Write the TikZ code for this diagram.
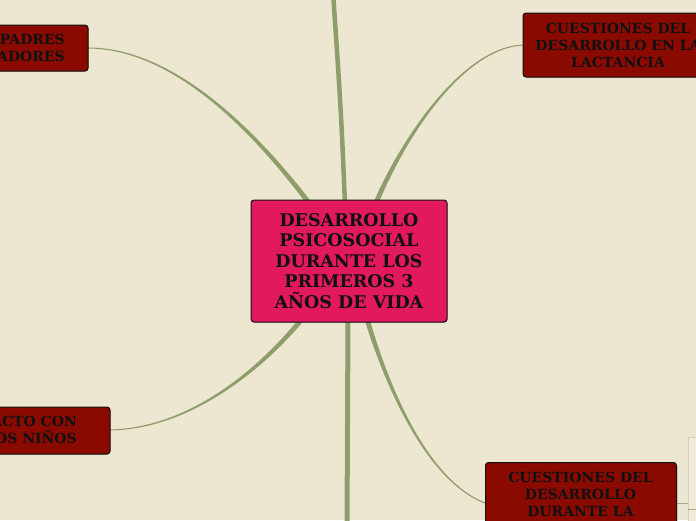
\documentclass[tikz,border=0pt]{standalone}
\usepackage{fontspec}
\setmainfont{DejaVu Serif}
\usetikzlibrary{shadows}
\definecolor{bg}{RGB}{237,231,209}
\definecolor{pinkc}{RGB}{227,25,95}
\definecolor{darkred}{RGB}{138,10,0}
\definecolor{branch}{RGB}{141,158,107}
\definecolor{thinbranch}{RGB}{160,172,128}
\definecolor{framec}{RGB}{212,208,186}
\definecolor{inkc}{RGB}{17,17,17}
\begin{document}
\begin{tikzpicture}[x=1pt,y=-1pt,
  boxbase/.style={draw=inkc, line width=1pt, rounded corners=3pt,
    drop shadow={shadow xshift=0.8pt,shadow yshift=-0.8pt,opacity=0.3}},
  mainbox/.style={boxbase, fill=pinkc, text=inkc, align=center, inner sep=0pt,
    font=\bfseries\fontsize{17.5}{20.5}\selectfont},
  subbox/.style={boxbase, fill=darkred, text=inkc, align=center, inner sep=0pt,
    font=\bfseries\fontsize{14}{17}\selectfont},
  subtext/.style={text=inkc, inner sep=0pt, font=\bfseries\fontsize{14}{17}\selectfont},
  taper/.style={fill=branch, draw=none},
  trunk/.style={draw=branch, line cap=round}]
\useasboundingbox (0,0) rectangle (696,520);
\fill[bg] (0,0) rectangle (696,520);
\clip (0,0) rectangle (696,520);

% straight trunks to off-canvas topics
\coordinate (topend) at (333,-8);
\coordinate (botend) at (347,528);
\draw[trunk, line width=4.5pt] (345,205) .. controls (341,110) .. (topend);
\draw[trunk, line width=5pt] (348,318) -- (botend);

% tapered branches
\fill[taper] (310.99,201.49) .. controls (251.43,123.91) and (170,47.2) .. (88,47.5)
  -- (88,48.5) .. controls (170,48.8) and (248.57,126.09) .. (307.01,204.51) -- cycle;
\fill[taper] (378.31,203.96) .. controls (401.66,145.69) and (460.04,48.8) .. (523.02,45.5)
  -- (522.98,44.5) .. controls (459.96,47.2) and (398.34,144.31) .. (373.69,202.05) -- cycle;
\fill[taper] (300.07,317.41) .. controls (258.61,368.86) and (189.98,427.2) .. (110.99,429.5)
  -- (111.01,430.5) .. controls (190.02,428.8) and (261.39,371.14) .. (303.93,320.59) -- cycle;
\fill[taper] (364.6,319.71) .. controls (383.27,380.51) and (424.71,480.75) .. (484.82,503.47)
  -- (485.18,502.53) .. controls (425.29,479.25) and (386.73,379.49) .. (369.4,318.29) -- cycle;

% faint frame at right
\draw[framec, fill=bg!80!white, line width=0.8pt] (688,437) rectangle (740,620);

% nodes
\node[mainbox, minimum width=196pt, minimum height=122pt] (center) at (349,261)
  {DESARROLLO\\PSICOSOCIAL\\DURANTE LOS\\PRIMEROS 3\\AÑOS DE VIDA};

\node[subbox, minimum width=190pt, minimum height=46pt] (tl) at (-7,48) {};
\node[subtext, anchor=east, align=right] (tlt) at (65,48) {PADRES\\ADORES\hspace{5.5pt}};

\node[subbox, minimum width=190pt, minimum height=64pt] (tr) at (618,45)
  {CUESTIONES DEL\\DESARROLLO EN LA\\LACTANCIA};

\node[subbox, minimum width=200pt, minimum height=47pt] (bl) at (10,430.5) {};
\node[subtext, anchor=east, align=right] (blt) at (77,430) {ACTO CON\\OS NIÑOS\hspace{5.7pt}};

\node[subbox, anchor=north west, minimum width=191pt, minimum height=120pt] (br) at (485,462) {};
\node[subtext, anchor=north, align=center] (brt) at (580.5,471.5)
  {CUESTIONES DEL\\DESARROLLO\\DURANTE LA};

% connector from lower-right topic into the frame
\coordinate (brc) at (676.5,503);
\coordinate (frc) at (688,503);
\coordinate (fa) at (688,509);
\coordinate (fb) at (700,509);
\draw[thinbranch, line width=0.8pt] (brc) -- (frc);
\draw[thinbranch, line width=0.8pt] (fa) -- (fb);
\end{tikzpicture}
\end{document}
